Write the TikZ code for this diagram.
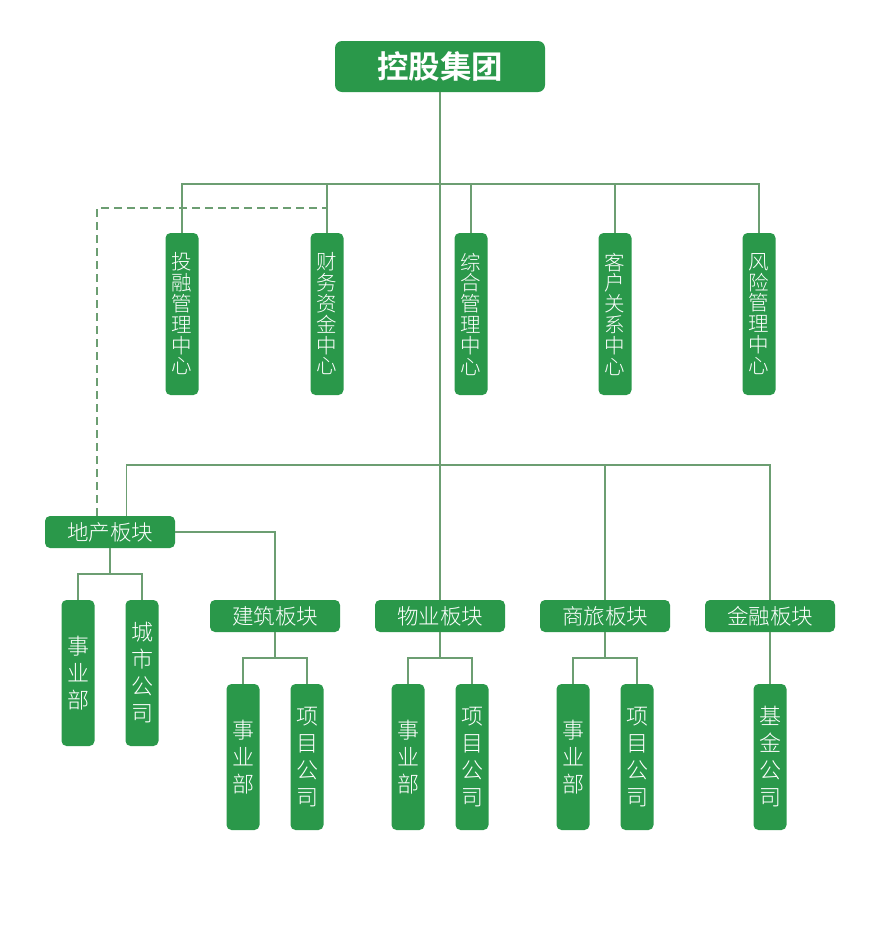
\documentclass[tikz,border=0pt]{standalone}
\usepackage{fontspec}
\newfontfamily\cjkbold{Noto Sans CJK SC Bold}
\IfFontExistsTF{Noto Sans CJK SC Light}
  {\newfontfamily\cjk{Noto Sans CJK SC Light}}
  {\newfontfamily\cjk{Noto Sans CJK SC}}
\usetikzlibrary{positioning}
\definecolor{boxgreen}{RGB}{42,152,74}
\definecolor{linegreen}{RGB}{108,158,114}
\begin{document}
\begin{tikzpicture}
[x=1pt,y=-1pt,
  topbox/.style={shape=rectangle,rounded corners=7pt,fill=boxgreen,text=white,
    minimum width=210pt,minimum height=51pt,inner sep=0pt,
    font=\cjkbold\fontsize{31.5}{34}\selectfont},%
  centerbox/.style={shape=rectangle,rounded corners=5pt,fill=boxgreen,text=white,
    minimum width=33pt,minimum height=162pt,inner sep=0pt,align=center,
    font=\cjk\fontsize{20.5}{20.8}\selectfont},%
  blockbox/.style={shape=rectangle,rounded corners=5pt,fill=boxgreen,text=white,
    minimum width=130pt,minimum height=32pt,inner sep=0pt,
    font=\cjk\fontsize{21.5}{23}\selectfont},%
  unitbox/.style={shape=rectangle,rounded corners=5pt,fill=boxgreen,text=white,
    minimum width=33pt,minimum height=146pt,inner sep=0pt,align=center,
    font=\cjk\fontsize{22}{27}\selectfont},%
  linkline/.style={-,draw=linegreen,line width=1.6pt},%
  dashlink/.style={-,draw=linegreen,line width=2pt,dash pattern=on 8pt off 5pt}]
\useasboundingbox (0,0) rectangle (881,946);
%% group
\node (group) at (440,66.5) [topbox] {控股集团};
%% management centres
\foreach \nodename/\x/\txt in {touzi/182/{投\\融\\管\\理\\中\\心},
  caiwu/327/{财\\务\\资\\金\\中\\心}, zonghe/471/{综\\合\\管\\理\\中\\心},
  kehu/615/{客\\户\\关\\系\\中\\心}, fengxian/759/{风\\险\\管\\理\\中\\心}} {
  \node (\nodename) at (\x,314) [centerbox] {\txt};
}
%% business blocks
\foreach \nodename/\x/\y/\txt in {dichan/110/532/地产板块, jianzhu/275/616/建筑板块,
  wuye/440/616/物业板块, shanglv/605/616/商旅板块, jinrong/770/616/金融板块} {
  \node (\nodename) at (\x,\y) [blockbox] {\txt};
}
%% units
\foreach \nodename/\x/\y/\txt in {dcsy/78/673/{事\\业\\部}, dccs/142/673/{城\\市\\公\\司},
  jzsy/243/757/{事\\业\\部}, jzxm/307/757/{项\\目\\公\\司},
  wysy/408/757/{事\\业\\部}, wyxm/472/757/{项\\目\\公\\司},
  slsy/573/757/{事\\业\\部}, slxm/637/757/{项\\目\\公\\司},
  jrjj/770/757/{基\\金\\公\\司}} {
  \node (\nodename) at (\x,\y) [unitbox] {\txt};
}
%% lines
\draw[linkline] (group.south) -- (wuye.north);
\foreach \nodename in {touzi, caiwu, zonghe, kehu, fengxian} {
  \draw[linkline] (\nodename.north) |- (group.south |- 0,184);
}
\foreach \nodename in {shanglv, jinrong} {
  \draw[linkline] (\nodename.north) |- (group.south |- 0,465);
}
\draw[linkline] ([xshift=16.5pt]dichan.north) |- (group.south |- 0,465);
\draw[dashlink] ([xshift=-13pt]dichan.north) |- (caiwu.north |- 0,208);
\draw[linkline] (dichan.east) -| (jianzhu.north);
\foreach \parent/\childa/\childb in {dichan/dcsy/dccs, jianzhu/jzsy/jzxm,
  wuye/wysy/wyxm, shanglv/slsy/slxm} {
  \draw[linkline] (\parent.south) -- ++(0,26) coordinate (\parent-bus);
  \draw[linkline] (\childa.north) |- (\parent-bus) -| (\childb.north);
}
\draw[linkline] (jinrong.south) -- (jrjj.north);
\end{tikzpicture}
\end{document}
